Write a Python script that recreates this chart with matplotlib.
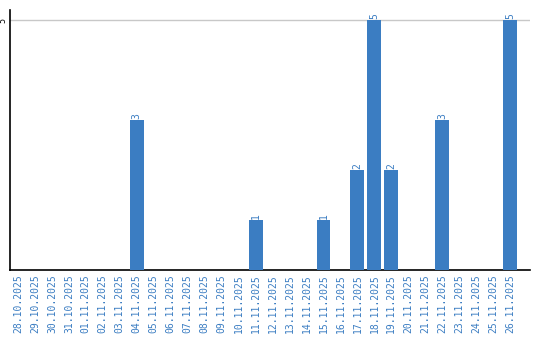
import matplotlib
matplotlib.use("Agg")
import matplotlib.pyplot as plt

dates = ["28.10.2025", "29.10.2025", "30.10.2025", "31.10.2025", "01.11.2025",
         "02.11.2025", "03.11.2025", "04.11.2025", "05.11.2025", "06.11.2025",
         "07.11.2025", "08.11.2025", "09.11.2025", "10.11.2025", "11.11.2025",
         "12.11.2025", "13.11.2025", "14.11.2025", "15.11.2025", "16.11.2025",
         "17.11.2025", "18.11.2025", "19.11.2025", "20.11.2025", "21.11.2025",
         "22.11.2025", "23.11.2025", "24.11.2025", "25.11.2025", "26.11.2025"]
values = [0, 0, 0, 0, 0, 0, 0, 3, 0, 0,
          0, 0, 0, 0, 1, 0, 0, 0, 1, 0,
          2, 5, 2, 0, 0, 3, 0, 0, 0, 5]
yticks = [5]

blue = "#3b7dc2"

fig = plt.figure(figsize=(5.4, 3.4), dpi=100)
ax = fig.add_axes([10/540, 70/340, 520/540, 260/340])
x = list(range(len(dates)))
ax.bar(x, values, width=0.82, color=blue, zorder=3)
for xi, v in zip(x, values):
    if v > 0:
        ax.annotate(str(v), (xi, v), xytext=(0, 1), textcoords="offset points",
                    rotation=90, ha="center", va="bottom", color=blue,
                    fontsize=7, family="DejaVu Sans Mono")
ax.set_xlim(-0.47, 30.17)
ax.set_ylim(0, 5.2)
ax.set_xticks(x)
ax.set_xticklabels(dates, rotation=90, color=blue, fontsize=7, family="DejaVu Sans Mono")
ax.set_yticks(yticks)
ax.set_yticklabels([str(t) for t in yticks], rotation=90, va="center", ha="center",
                   fontsize=6, family="DejaVu Sans Mono")
ax.tick_params(axis="x", length=0, pad=3)
ax.tick_params(axis="y", length=0, pad=5)
ax.grid(axis="y", color="#c8c8c8", linewidth=1, zorder=0)
ax.spines["top"].set_visible(False)
ax.spines["right"].set_visible(False)
ax.spines["left"].set_color("black")
ax.spines["bottom"].set_color("black")
ax.spines["left"].set_linewidth(1.2)
ax.spines["bottom"].set_linewidth(1.2)
fig.savefig("out.png", dpi=100)
